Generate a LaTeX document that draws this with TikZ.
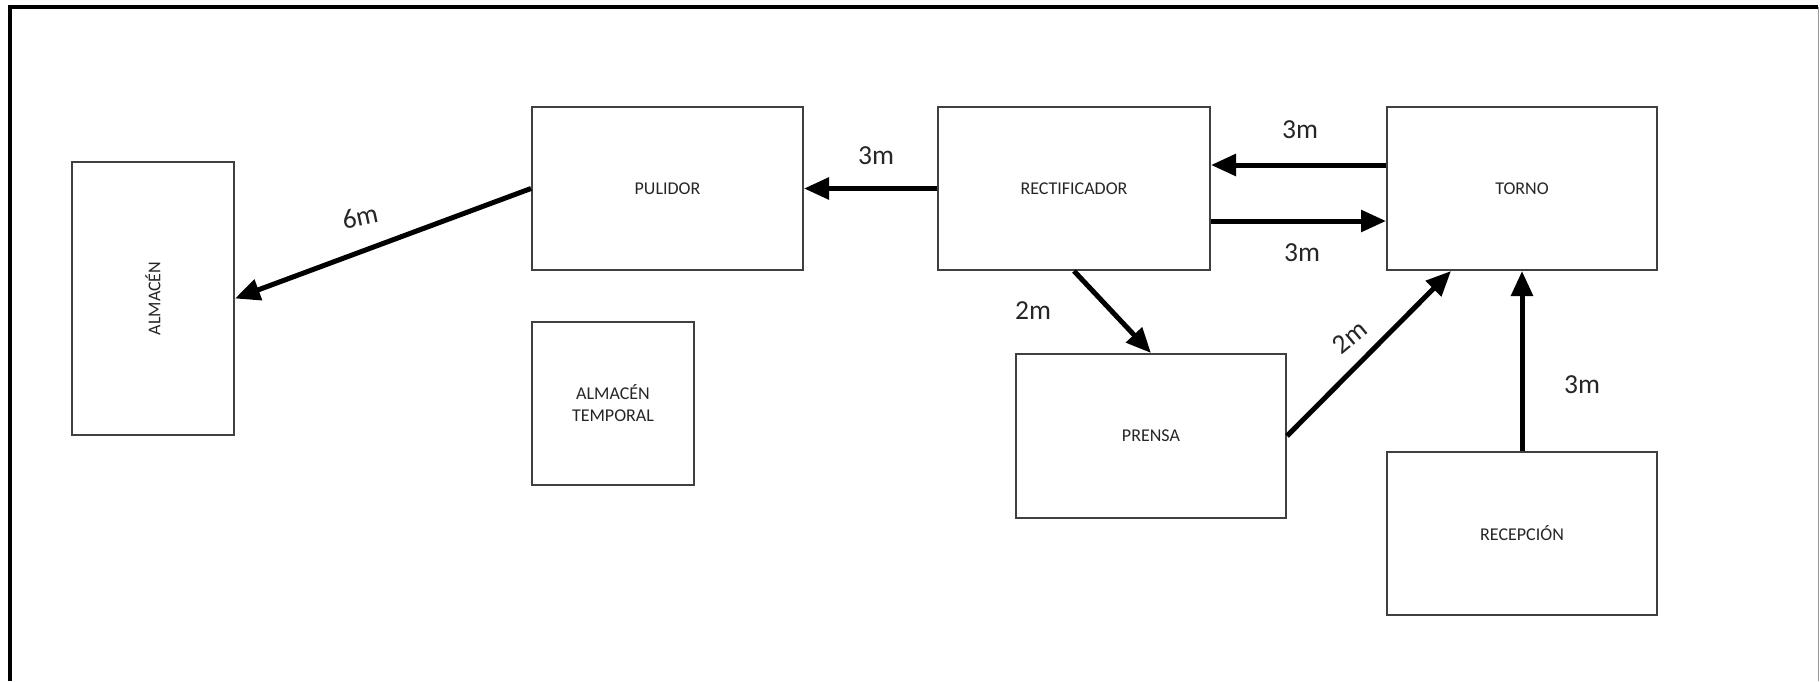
\documentclass[tikz,border=0pt]{standalone}
\usepackage{fontspec}
\setmainfont{Carlito}
\usetikzlibrary{arrows.meta}
\begin{document}
\begin{tikzpicture}[x=0.4pt,y=-0.4pt,
  box/.style={draw=black!75,line width=0.8pt,fill=white,inner sep=0pt,
    font=\fontsize{7.2}{8.8}\selectfont,align=center,text=black!85},
  flow/.style={line width=2pt,-{Triangle[length=10pt,width=8.5pt]}},
  dist/.style={font=\fontsize{11}{13}\selectfont,inner sep=0pt,text=black!85}]
\useasboundingbox (0,0) rectangle (1820,681);
\draw[line width=1.6pt] (10,681) -- (10,6.5) -- (1818,6.5);
\draw[black!40,line width=0.4pt] (1818,6.5) -- (1818,681);

\node[box,minimum width=64.8pt,minimum height=109.2pt] (alm) at (153,298.5) {\rotatebox{90}{ALMACÉN}};
\node[box,minimum width=108.4pt,minimum height=65.2pt] (pul) at (667.5,188.5) {PULIDOR};
\node[box,minimum width=64.8pt,minimum height=65.2pt] (tmp) at (613,403.5) {ALMACÉN\\TEMPORAL};
\node[box,minimum width=108.8pt,minimum height=65.2pt] (rec) at (1074,188.5) {RECTIFICADOR};
\node[box,minimum width=108pt,minimum height=65.2pt] (tor) at (1522,188.5) {TORNO};
\node[box,minimum width=108pt,minimum height=65.6pt] (pre) at (1151,436) {PRENSA};
\node[box,minimum width=108pt,minimum height=65.2pt] (rcp) at (1522,533.5) {RECEPCIÓN};

\draw[flow] (pul.west) -- (alm.east);
\draw[flow] (rec.west) -- (pul.east);
\draw[flow] ([yshift=9.4pt]tor.west) -- ([yshift=9.4pt]rec.east);
\draw[flow] ([yshift=-13pt]rec.east) -- ([yshift=-13pt]tor.west);
\draw[flow] (rec.south) -- (pre.north);
\draw[flow] (pre.east) -- ([xshift=-28.4pt]tor.south);
\draw[flow] (rcp.north) -- (tor.south);

\node[dist,rotate=12] (d1) at (360,217) {6m};
\node[dist] (d2) at (876,156) {3m};
\node[dist] (d3) at (1300,130) {3m};
\node[dist] (d4) at (1302,253) {3m};
\node[dist] (d5) at (1033,311) {2m};
\node[dist,rotate=40] (d6) at (1350,337) {2m};
\node[dist] (d7) at (1582,385) {3m};
\end{tikzpicture}
\end{document}
